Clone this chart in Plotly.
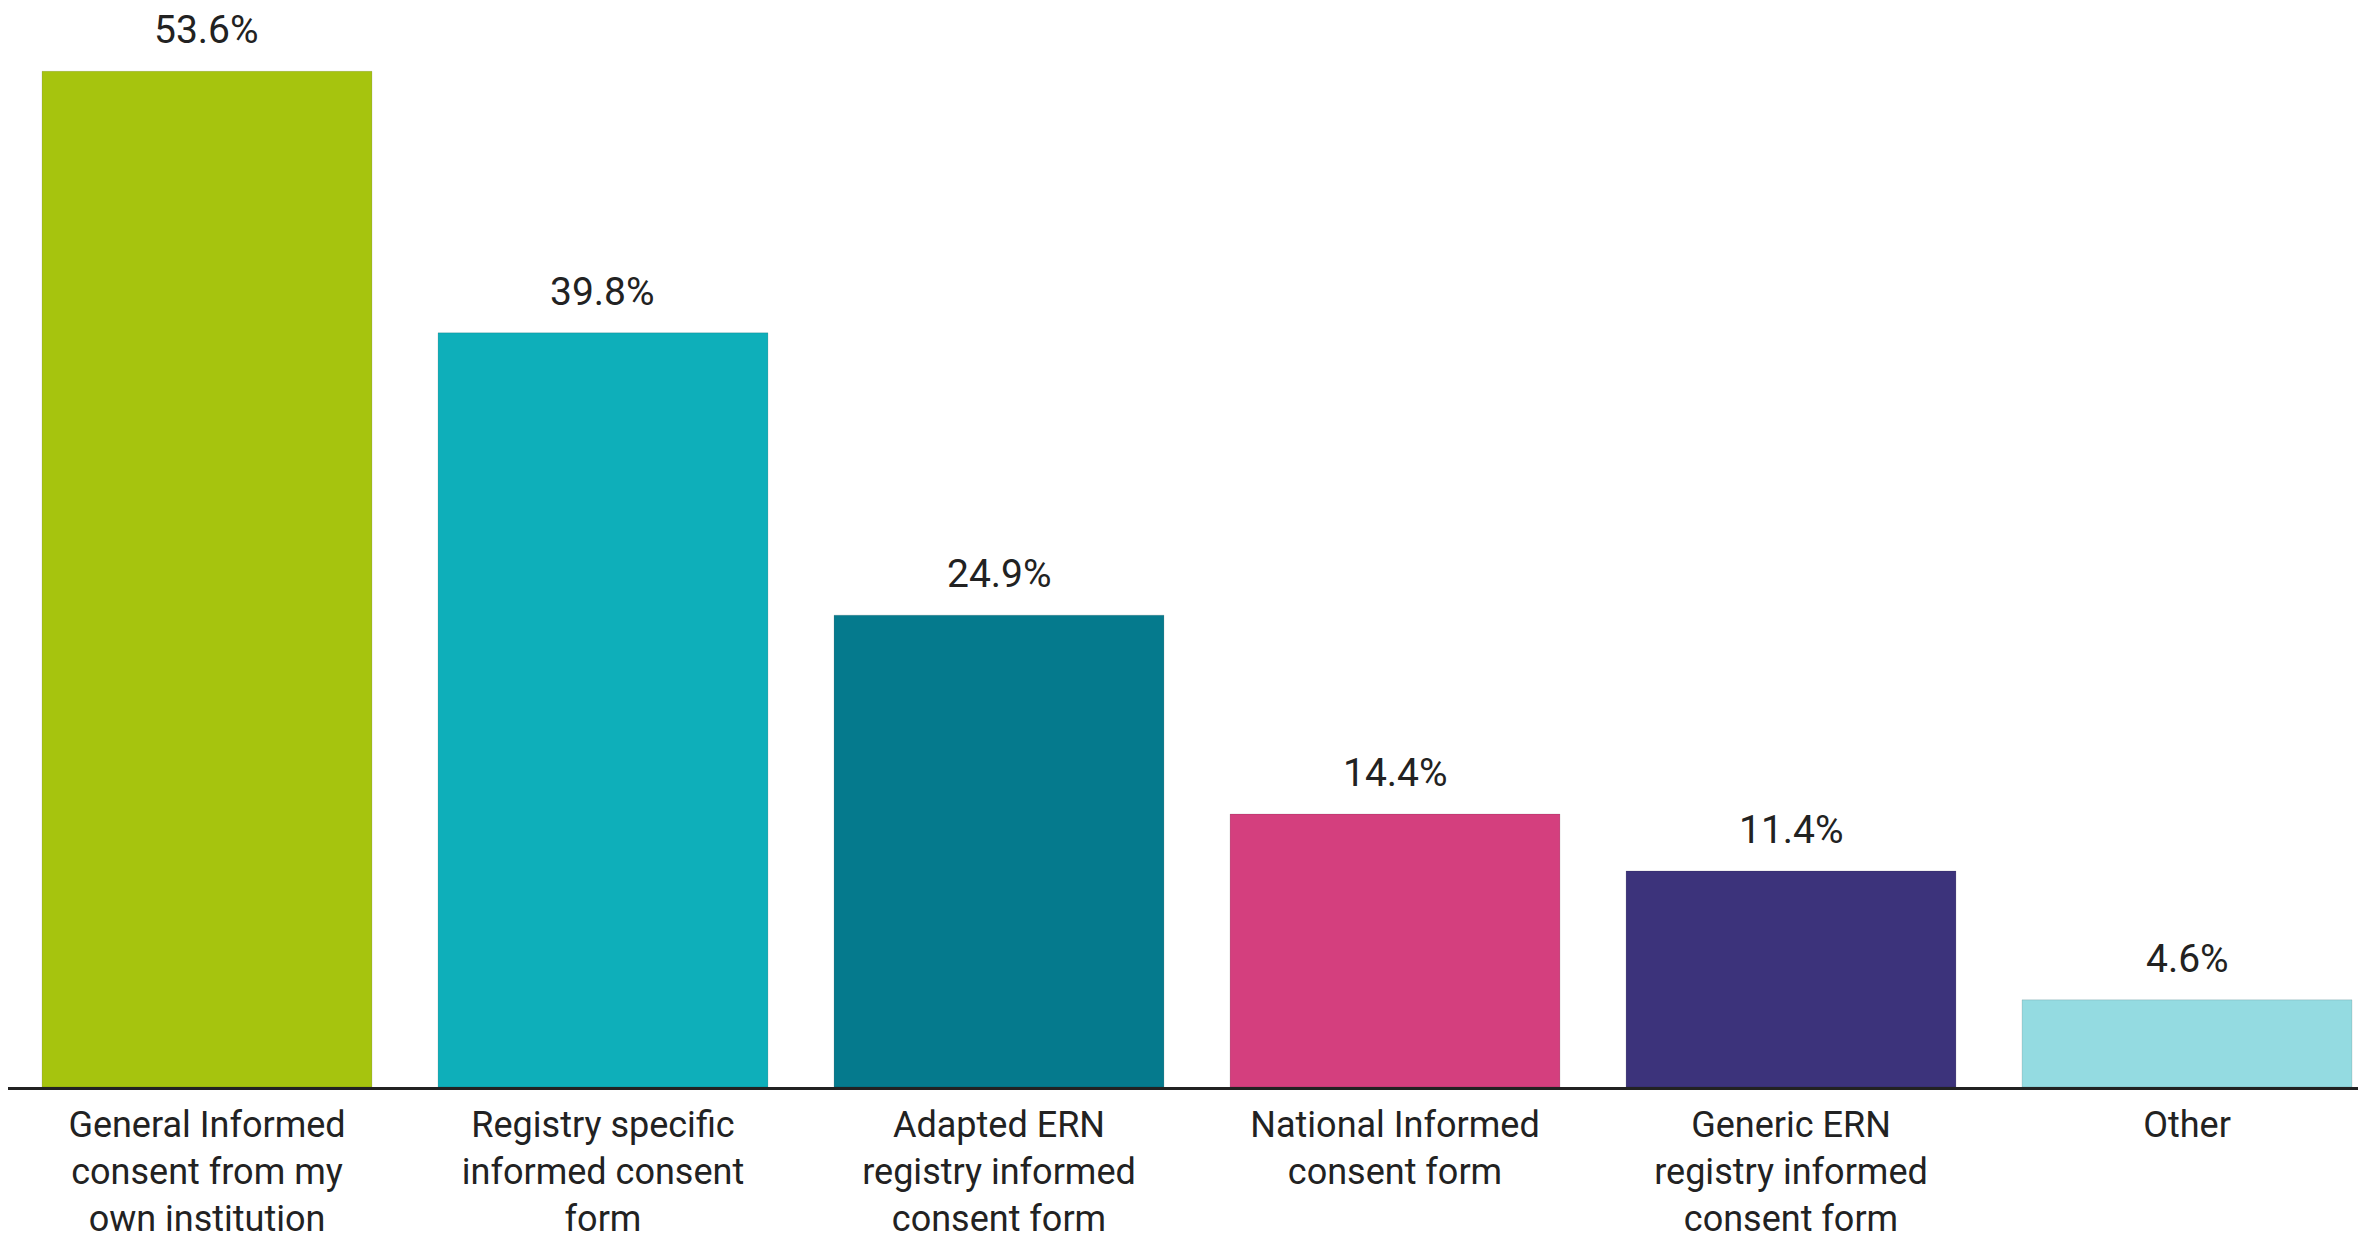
import plotly.graph_objects as go

categories = [
    'General Informed<br>consent from my<br>own institution',
    'Registry specific<br>informed consent<br>form',
    'Adapted ERN<br>registry informed<br>consent form',
    'National Informed<br>consent form',
    'Generic ERN<br>registry informed<br>consent form',
    'Other',
]
values = [53.6, 39.8, 24.9, 14.4, 11.4, 4.6]
colors = ['#a6c40e', '#0eafba', '#057a8d', '#d43f7e', '#3c337b', '#94dbe1']

fig = go.Figure()
fig.add_trace(go.Bar(
    x = categories,
    y = values,
    marker = {'color': colors, 'line': {'color': 'rgba(0,0,0,0.12)', 'width': 1}},
    hoverinfo = 'skip',
))

# value labels above each bar
for cat, val in zip(categories, values):
    fig.add_annotation(x = cat, y = val, text = f'{val:.1f}%',
                       showarrow = False, yanchor = 'bottom', yshift = 16,
                       font = {'size': 39, 'color': '#222222'})

fig.update_layout(
    width = 2358,
    height = 1235,
    plot_bgcolor = 'white',
    paper_bgcolor = 'white',
    font = {'family': 'Roboto', 'size': 36, 'color': '#222222'},
    bargap = 0.167,
    showlegend = False,
    margin = {'l': 0, 'r': 0, 't': 0, 'b': 156},
)
fig.update_xaxes(range = [-0.5025, 5.452], showline = True, linecolor = '#222222',
                 linewidth = 3, ticks = '', tickangle = 0, ticklabelstandoff = 4,
                 tickfont = {'size': 36}, automargin = False)
fig.update_yaxes(range = [0, 56.94], visible = False, showgrid = False, automargin = False)

fig.write_html("out.html")
